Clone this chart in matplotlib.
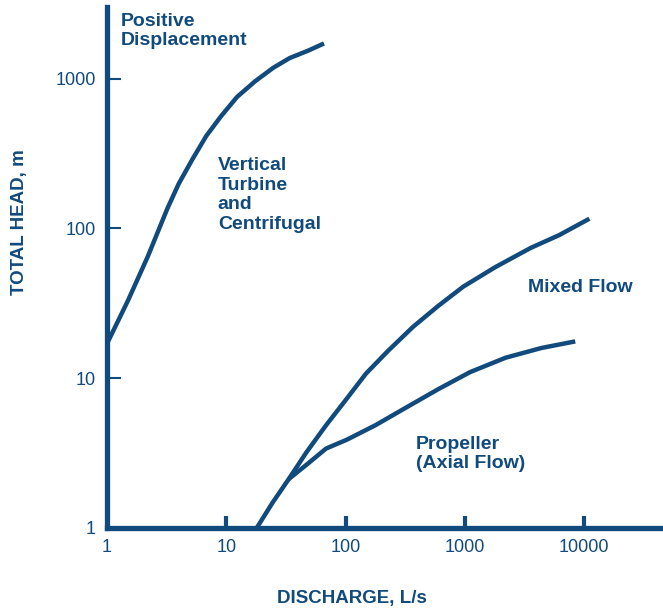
import matplotlib.pyplot as plt

plt.rcParams['font.family'] = ['Liberation Sans', 'DejaVu Sans']

navy = "#114a7c"

# positive displacement / vertical turbine boundary
pd_x = [1.0, 1.5, 2.2, 3.2, 4.0, 5.2, 6.8, 9.0, 12.3, 17.4, 24.7, 34, 49, 66]
pd_y = [17, 33, 65, 135, 199, 289, 414, 558, 753, 957, 1178, 1370, 1540, 1715]

# mixed flow boundary
mf_x = [18.0, 24.5, 33.4, 47, 68.7, 103, 148, 227, 368, 597, 970, 1795, 3565, 6180, 11090]
mf_y = [1.0, 1.48, 2.12, 3.2, 4.85, 7.34, 10.7, 15.2, 22.0, 30.3, 40.8, 55.0, 74.0, 90.1, 116]

# propeller (axial flow) boundary
pr_x = [33.4, 47, 68.7, 103, 178, 326, 597, 1109, 2203, 4385, 8440]
pr_y = [2.12, 2.64, 3.39, 3.89, 4.85, 6.4, 8.43, 10.98, 13.7, 15.9, 17.6]

x_ticks = [1, 10, 100, 1000, 10000]
y_ticks = [1, 10, 100, 1000]

fig = plt.figure(figsize=(6.63, 6.15), dpi=100)
ax = fig.add_axes([0.1614, 0.1415, 0.837, 0.847])

for xs, ys in [(pd_x, pd_y), (mf_x, mf_y), (pr_x, pr_y)]:
    ax.plot(xs, ys, color=navy, linewidth=3.2, solid_capstyle='butt',
            solid_joinstyle='round')

ax.set_xscale('log')
ax.set_yscale('log')
ax.set_xlim(1, 45000)
ax.set_ylim(1, 3000)

ax.spines['top'].set_visible(False)
ax.spines['right'].set_visible(False)
for s in ['left', 'bottom']:
    ax.spines[s].set_linewidth(3.8)
    ax.spines[s].set_color(navy)

ax.set_xticks(x_ticks)
ax.set_xticklabels([str(v) for v in x_ticks])
ax.set_yticks(y_ticks)
ax.set_yticklabels([str(v) for v in y_ticks])
ax.minorticks_off()
ax.tick_params(axis='x', direction='in', length=9, width=3, color=navy,
               labelcolor=navy, labelsize=13, pad=8)
ax.tick_params(axis='y', direction='in', length=10, width=1.5, color=navy,
               labelcolor=navy, labelsize=13, pad=8)
# no tick mark at the corner
ax.xaxis.get_major_ticks()[0].tick1line.set_visible(False)
ax.yaxis.get_major_ticks()[0].tick1line.set_visible(False)

ax.set_xlabel("DISCHARGE, L/s", color=navy, fontsize=13.5, fontweight='bold')
ax.xaxis.set_label_coords(0.441, -0.12)
ax.set_ylabel("TOTAL HEAD, m", color=navy, fontsize=13.5, fontweight='bold')
ax.yaxis.set_label_coords(-0.142, 0.587)

lab = dict(color=navy, fontsize=14, fontweight='bold', ha='left', va='center',
           linespacing=1.2)
ax.text(1.31, 2073, "Positive\nDisplacement", **lab)
ax.text(8.5, 167, "Vertical\nTurbine\nand\nCentrifugal", **lab)
ax.text(3390, 40, "Mixed Flow", **lab)
ax.text(390, 3.12, "Propeller\n(Axial Flow)", **lab)

fig.savefig("out.png", dpi=100)
